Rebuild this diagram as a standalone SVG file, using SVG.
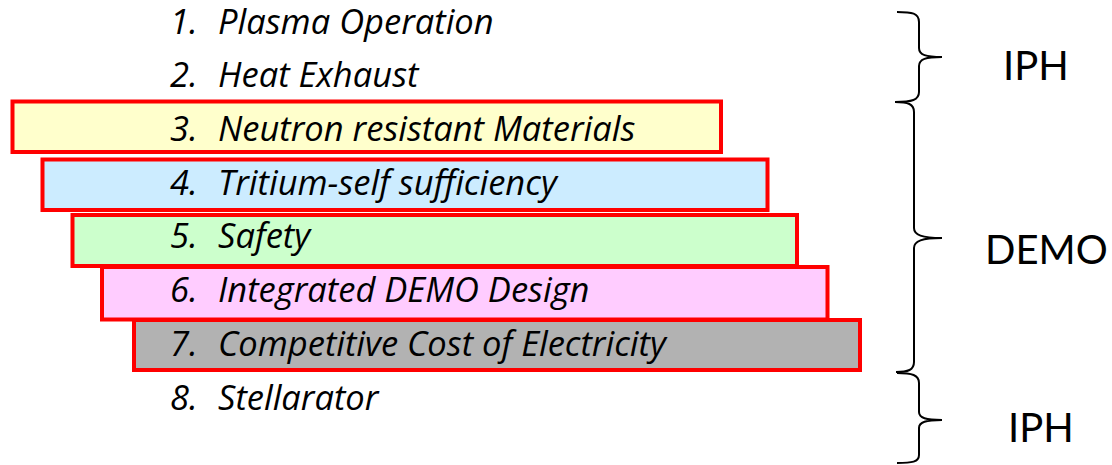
<svg xmlns="http://www.w3.org/2000/svg" width="1112" height="465" viewBox="0 0 1112 465">
<style>
.box{stroke:#FF0000;stroke-width:4}
.it{font-family:"Open Sans","Liberation Sans",sans-serif;font-style:italic;font-size:34.5px;fill:#000}
.lbl{font-family:Lato,"Liberation Sans",sans-serif;font-size:40px;fill:#000}
.brace{fill:none;stroke:#000;stroke-width:2}
</style>
<rect width="1112" height="465" fill="#fff"/>
<g id="item1"><text class="it" x="170" y="33.5">1.</text><text class="it" x="218" y="33.5">Plasma Operation</text></g>
<g id="item2"><text class="it" x="170" y="87">2.</text><text class="it" x="218" y="87">Heat Exhaust</text></g>
<g id="item3"><rect class="box" x="12.5" y="101.5" width="708.5" height="50.5" fill="#FFFFCC"/><text class="it" x="170" y="141">3.</text><text class="it" x="218" y="141">Neutron resistant Materials</text></g>
<g id="item4"><rect class="box" x="42.5" y="159.5" width="725" height="50.5" fill="#CCECFF"/><text class="it" x="170" y="195">4.</text><text class="it" x="218" y="195">Tritium-self sufficiency</text></g>
<g id="item5"><rect class="box" x="72.5" y="215" width="724.5" height="51" fill="#CCFFCC"/><text class="it" x="170" y="248">5.</text><text class="it" x="218" y="248">Safety</text></g>
<g id="item6"><rect class="box" x="102" y="267" width="725.5" height="52.5" fill="#FFCCFF"/><text class="it" x="170" y="302">6.</text><text class="it" x="218" y="302">Integrated DEMO Design</text></g>
<g id="item7"><rect class="box" x="134" y="320" width="726" height="50" fill="#B2B2B2"/><text class="it" x="170" y="356">7.</text><text class="it" x="218" y="356">Competitive Cost of Electricity</text></g>
<g id="item8"><text class="it" x="170" y="410">8.</text><text class="it" x="218" y="410">Stellarator</text></g>
<g id="connectors">
<path class="brace" d="M897,12 C912,12 919,13 919,22 L919,48 C919,55 926,57 942,57 C926,57 919,59 919,66 L919,92 C919,100 912,102 895,102"/>
<path class="brace" d="M895,102 C908,102 914,104 914,112 L914,228 C914,235 922,238 942,238 C922,238 914,241 914,248 L914,362 C914,370 908,372 896,372"/>
<path class="brace" d="M897,373 C912,373 919,375 919,383 L919,412 C919,418 926,420 942,420 C926,420 919,422 919,428 L919,455 C919,462 912,463 897,463"/>
</g>
<g id="label-iph1"><text class="lbl" x="1003" y="80">IPH</text></g>
<g id="label-demo"><text class="lbl" x="985" y="264">DEMO</text></g>
<g id="label-iph2"><text class="lbl" x="1008" y="442">IPH</text></g>
</svg>
